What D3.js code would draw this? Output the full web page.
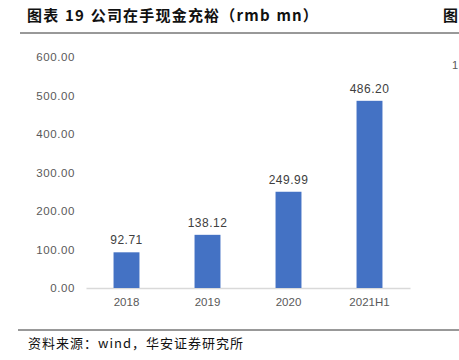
<!DOCTYPE html>
<html><head><meta charset="utf-8">
<script src="https://cdn.jsdelivr.net/npm/d3@7/dist/d3.min.js"></script>
<style>body{margin:0;background:#fff}svg{display:block}</style>
</head><body>
<svg id="c" width="459" height="360"></svg>
<script>
const categories = ["2018", "2019", "2020", "2021H1"];
const values = [92.71, 138.12, 249.99, 486.20];
const yTicks = [0, 100, 200, 300, 400, 500, 600];
const title = "图表 19 公司在手现金充裕（rmb mn）";
const source = "资料来源：wind，华安证券研究所";

const svg = d3.select("#c");
const m = {left: 86, right: 410, top: 57, bottom: 288};
const x = d3.scaleBand().domain(categories).range([m.left, m.right]).paddingInner(0.68).paddingOuter(0.34);
const y = d3.scaleLinear().domain([0, 600]).range([m.bottom, m.top]);

// title
svg.append("text").attr("x", 27).attr("y", 21).text(title)
  .attr("font-family", "'Noto Sans CJK SC', sans-serif").attr("font-size", 15).attr("font-weight", 600)
  .attr("fill", "#111").attr("letter-spacing", 1.2).attr("word-spacing", 1);
svg.append("text").attr("x", 443).attr("y", 21).text("图")
  .attr("font-family", "'Noto Sans CJK SC', sans-serif").attr("font-size", 15).attr("font-weight", 600).attr("fill", "#111");
svg.append("line").attr("x1", 20).attr("x2", 459).attr("y1", 33).attr("y2", 33).attr("stroke", "#333").attr("stroke-width", 1);
svg.append("text").attr("x", 452).attr("y", 69).text("1")
  .attr("font-family", "'Liberation Sans', sans-serif").attr("font-size", 11).attr("fill", "#595959");

// y axis
const ya = svg.append("g").attr("transform", `translate(${m.left - 11},0)`)
  .call(d3.axisLeft(y).tickValues(yTicks).tickSize(0).tickPadding(0).tickFormat(d => d3.format(".2f")(d)));
ya.select(".domain").remove();
ya.selectAll("text").attr("font-family", "'Liberation Sans', Arial, sans-serif").attr("font-size", 11.5).attr("fill", "#595959").attr("letter-spacing", 0.6);

// x axis
const xa = svg.append("g").attr("transform", `translate(0,${m.bottom})`)
  .call(d3.axisBottom(x).tickSize(0).tickPadding(10));
xa.select(".domain").attr("stroke", "#d9d9d9").attr("stroke-width", 1.3);
xa.selectAll("text").attr("font-family", "'Liberation Sans', Arial, sans-serif").attr("font-size", 11.5).attr("fill", "#595959");

// bars
svg.append("g").selectAll("rect").data(values).join("rect")
  .attr("x", (d, i) => x(categories[i])).attr("width", x.bandwidth())
  .attr("y", d => y(d)).attr("height", d => y(0) - y(d)).attr("fill", "#4472C4");

svg.append("g").selectAll("text").data(values).join("text")
  .attr("x", (d, i) => x(categories[i]) + x.bandwidth() / 2).attr("y", d => y(d) - 8)
  .attr("text-anchor", "middle").text(d => d3.format(".2f")(d))
  .attr("font-family", "'Liberation Sans', Arial, sans-serif").attr("font-size", 12).attr("fill", "#404040").attr("letter-spacing", 0.5);

// source
svg.append("line").attr("x1", 18).attr("x2", 459).attr("y1", 330).attr("y2", 330).attr("stroke", "#333").attr("stroke-width", 1);
svg.append("text").attr("x", 28).attr("y", 348).text(source)
  .attr("font-family", "'Noto Sans CJK SC', sans-serif").attr("font-size", 13).attr("fill", "#111").attr("letter-spacing", 1);
</script>
</body></html>
